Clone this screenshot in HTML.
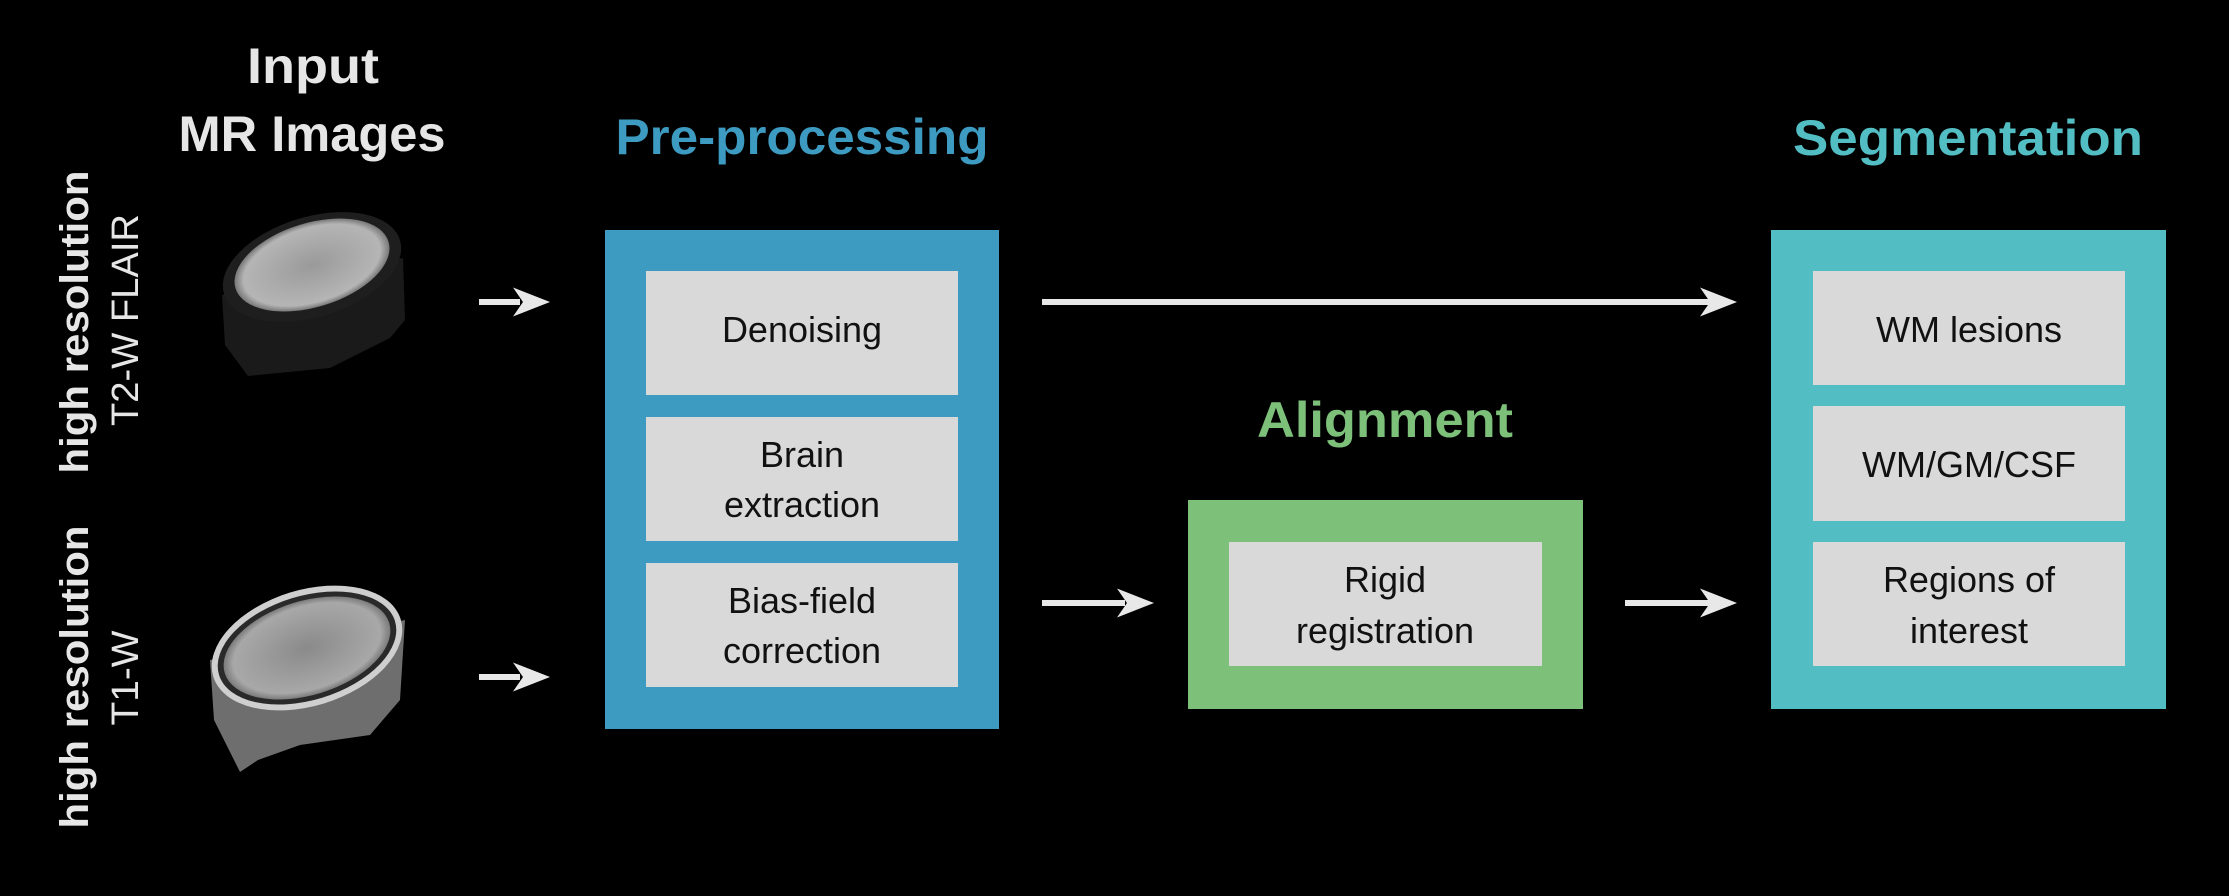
<!DOCTYPE html>
<html><head><meta charset="utf-8"><style>
html,body{margin:0;padding:0;background:#000;}
svg{display:block;}
text{font-family:"Liberation Sans Narrow","Liberation Sans",sans-serif;}
</style></head><body>
<svg width="2229" height="896" viewBox="0 0 2229 896" xmlns="http://www.w3.org/2000/svg">
<defs>
<radialGradient id="fl" cx="50%" cy="50%" r="55%"><stop offset="0" stop-color="#9a9a9a"/><stop offset="0.8" stop-color="#b5b5b5"/><stop offset="1" stop-color="#444"/></radialGradient>
<radialGradient id="t1" cx="50%" cy="50%" r="55%"><stop offset="0" stop-color="#8a8a8a"/><stop offset="0.8" stop-color="#a8a8a8"/><stop offset="1" stop-color="#555"/></radialGradient>
<g id="ah"><polygon points="0,-14.5 37,0 0,14.5 10,0" fill="#e8e8e8"/></g>
</defs>
<rect width="2229" height="896" fill="#000"/>

<!-- titles -->
<text x="313" y="83" font-size="50" font-weight="bold" fill="#e6e6e6" text-anchor="middle" textLength="132" lengthAdjust="spacingAndGlyphs">Input</text>
<text x="312" y="151" font-size="50" font-weight="bold" fill="#e6e6e6" text-anchor="middle" textLength="267" lengthAdjust="spacingAndGlyphs">MR Images</text>
<text x="802" y="154" font-size="50" font-weight="bold" fill="#3d9bc1" text-anchor="middle" textLength="373" lengthAdjust="spacingAndGlyphs">Pre-processing</text>
<text x="1385" y="437" font-size="50" font-weight="bold" fill="#7dc07a" text-anchor="middle" textLength="256" lengthAdjust="spacingAndGlyphs">Alignment</text>
<text x="1968" y="155" font-size="50" font-weight="bold" fill="#52bec3" text-anchor="middle" textLength="350" lengthAdjust="spacingAndGlyphs">Segmentation</text>

<!-- vertical labels -->
<text transform="translate(88,322) rotate(-90)" font-size="40" font-weight="bold" fill="#e6e6e6" text-anchor="middle" textLength="303" lengthAdjust="spacingAndGlyphs">high resolution</text>
<text transform="translate(138,320) rotate(-90)" font-size="38" fill="#e6e6e6" text-anchor="middle" textLength="212" lengthAdjust="spacingAndGlyphs">T2-W FLAIR</text>
<text transform="translate(88,677) rotate(-90)" font-size="40" font-weight="bold" fill="#e6e6e6" text-anchor="middle" textLength="303" lengthAdjust="spacingAndGlyphs">high resolution</text>
<text transform="translate(138,678) rotate(-90)" font-size="38" fill="#e6e6e6" text-anchor="middle" textLength="95" lengthAdjust="spacingAndGlyphs">T1-W</text>

<!-- brains -->
<g>
<path d="M222,295 L225,345 L248,376 L330,368 L390,338 L405,320 L403,258 Z" fill="#1a1a1a"/>
<ellipse cx="312" cy="267" rx="92" ry="50" transform="rotate(-17 312 267)" fill="#1e1e1e"/>
<ellipse cx="312" cy="265" rx="80" ry="42" transform="rotate(-17 312 265)" fill="url(#fl)"/>
</g>
<g>
<path d="M210,660 L214,720 L240,772 L258,760 L300,745 L370,735 L400,700 L405,620 Z" fill="#6e6e6e"/>
<ellipse cx="307" cy="648" rx="98" ry="58" transform="rotate(-17 307 648)" fill="#cfcfcf"/>
<ellipse cx="307" cy="648" rx="92" ry="52" transform="rotate(-17 307 648)" fill="#2a2a2a"/>
<ellipse cx="307" cy="648" rx="86" ry="47" transform="rotate(-17 307 648)" fill="url(#t1)"/>
</g>

<!-- arrows -->
<g stroke="#e8e8e8" stroke-width="6">
<line x1="479" y1="302" x2="520" y2="302"/>
<line x1="479" y1="677" x2="520" y2="677"/>
<line x1="1042" y1="302" x2="1710" y2="302"/>
<line x1="1042" y1="603" x2="1125" y2="603"/>
<line x1="1625" y1="603" x2="1710" y2="603"/>
</g>
<use href="#ah" x="513" y="302"/>
<use href="#ah" x="513" y="677"/>
<use href="#ah" x="1700" y="302"/>
<use href="#ah" x="1117" y="603"/>
<use href="#ah" x="1700" y="603"/>

<!-- pre-processing -->
<rect x="605" y="230" width="394" height="499" fill="#3d9bc1"/>
<rect x="646" y="271" width="312" height="124" fill="#d9d9d9"/>
<rect x="646" y="417" width="312" height="124" fill="#d9d9d9"/>
<rect x="646" y="563" width="312" height="124" fill="#d9d9d9"/>
<g font-size="36" fill="#111" text-anchor="middle">
<text x="802" y="342">Denoising</text>
<text x="802" y="467">Brain</text>
<text x="802" y="517">extraction</text>
<text x="802" y="613">Bias-field</text>
<text x="802" y="663">correction</text>
</g>

<!-- alignment -->
<rect x="1188" y="500" width="395" height="209" fill="#7dc07a"/>
<rect x="1229" y="542" width="313" height="124" fill="#d9d9d9"/>
<g font-size="36" fill="#111" text-anchor="middle">
<text x="1385" y="592">Rigid</text>
<text x="1385" y="643">registration</text>
</g>

<!-- segmentation -->
<rect x="1771" y="230" width="395" height="479" fill="#52bec3"/>
<rect x="1813" y="271" width="312" height="114" fill="#d9d9d9"/>
<rect x="1813" y="406" width="312" height="115" fill="#d9d9d9"/>
<rect x="1813" y="542" width="312" height="124" fill="#d9d9d9"/>
<g font-size="36" fill="#111" text-anchor="middle">
<text x="1969" y="342">WM lesions</text>
<text x="1969" y="477">WM/GM/CSF</text>
<text x="1969" y="592">Regions of</text>
<text x="1969" y="643">interest</text>
</g>
</svg>
</body></html>
